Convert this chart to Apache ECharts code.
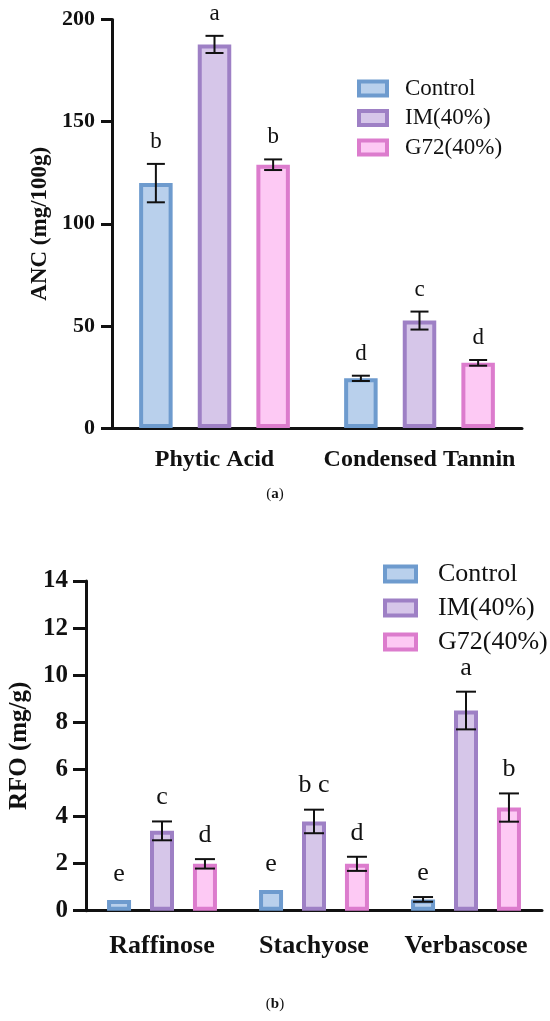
<!doctype html>
<html lang="en">
<head>
<meta charset="UTF-8">
<title>ANC and RFO</title>
<script src="https://cdn.jsdelivr.net/npm/echarts@6/dist/echarts.min.js"></script>
<style>
  html, body { margin: 0; padding: 0; background: #fff; }
  #chart { width: 550px; height: 1021px; }
</style>
</head>
<body>
<div id="chart"></div>
<script>
// (a) anti-nutritional compounds
var catsA = ['Phytic Acid', 'Condensed Tannin'];
var ctrlA = [119.9, 24.3];
var ctrlErrA = [9.4, 1.3];
var imA = [187.8, 52.6];
var imErrA = [4.2, 4.4];
var g72A = [128.9, 31.9];
var g72ErrA = [2.6, 1.4];
var letCtrlA = ['b', 'd'];
var letImA = ['a', 'c'];
var letG72A = ['b', 'd'];

// (b) raffinose family oligosaccharides
var catsB = ['Raffinose', 'Stachyose', 'Verbascose'];
var ctrlB = [0.45, 0.88, 0.48];
var ctrlErrB = [0, 0, 0.1];
var imB = [3.39, 3.79, 8.5];
var imErrB = [0.4, 0.5, 0.8];
var g72B = [1.99, 1.99, 4.38];
var g72ErrB = [0.2, 0.3, 0.6];
var letCtrlB = ['e', 'e', 'e'];
var letImB = ['c', 'b c', 'a'];
var letG72B = ['d', 'd', 'b'];

var groups = ['Control', 'IM(40%)', 'G72(40%)'];
var fills = ['#b9d0ec', '#d6c6e9', '#fdc9f4'];
var borders = ['#6e9bce', '#9e80c5', '#dc7ccd'];

var FONT = 'Liberation Serif';
var chart = echarts.init(document.getElementById('chart'));

// bar sizes per panel
var BW = [33.5, 24];
var GAP = [0.75, 0.79];
var CAP = [9, 10];

function errSeries(panel, k, vals, errs, letters, fontSize, lift) {
	var step = BW[panel] * (1 + GAP[panel]);
	var off = (k - 1) * step;
	var c = CAP[panel];
	return {
		type: 'custom',
		xAxisIndex: panel,
		yAxisIndex: panel,
		z: 5,
		data: vals.map(function (v, i) { return [i, v, errs[i]]; }),
		renderItem: function (params, api) {
			var i = api.value(0), v = api.value(1), e = api.value(2);
			var hi = api.coord([i, v + e]);
			var lo = api.coord([i, v - e]);
			var x = hi[0] + off;
			var kids = [];
			if (e > 0) {
				var ls = { stroke: '#111', lineWidth: 2 };
				kids.push({ type: 'line', shape: { x1: x, y1: hi[1], x2: x, y2: lo[1] }, style: ls });
				kids.push({ type: 'line', shape: { x1: x - c, y1: hi[1], x2: x + c, y2: hi[1] }, style: ls });
				kids.push({ type: 'line', shape: { x1: x - c, y1: lo[1], x2: x + c, y2: lo[1] }, style: ls });
			}
			var top = e > 0 ? hi[1] : hi[1] - 2;
			kids.push({
				type: 'text',
				style: {
					x: x, y: top - lift, text: letters[params.dataIndex],
					align: 'center', verticalAlign: 'middle',
					font: fontSize + 'px "' + FONT + '"', fill: '#111'
				}
			});
			return { type: 'group', children: kids };
		}
	};
}

function barSeries(panel, k, vals) {
	return {
		name: groups[k],
		type: 'bar',
		xAxisIndex: panel,
		yAxisIndex: panel,
		barWidth: BW[panel],
		barGap: (GAP[panel] * 100) + '%',
		data: vals,
		itemStyle: { color: fills[k], borderColor: borders[k], borderWidth: 4 }
	};
}

function yAx(panel, max, interval, name, fs, nameFs, nameGap, tick, margin) {
	return {
		type: 'value', gridIndex: panel, min: 0, max: max, interval: interval,
		name: name, nameLocation: 'middle', nameRotate: 90, nameGap: nameGap,
		nameTextStyle: { fontFamily: FONT, fontWeight: 'bold', fontSize: nameFs, color: '#111' },
		axisLine: { show: true, lineStyle: { color: '#111', width: 3 } },
		axisTick: { show: true, length: tick, lineStyle: { color: '#111', width: 3 } },
		axisLabel: { fontFamily: FONT, fontWeight: 'bold', fontSize: fs, color: '#111', margin: margin },
		splitLine: { show: false }
	};
}

function xAx(panel, cats, fs, margin) {
	return {
		type: 'category', gridIndex: panel, data: cats,
		axisLine: { lineStyle: { color: '#111', width: 3 } },
		axisTick: { alignWithLabel: true, length: 12, lineStyle: { color: '#111', width: 3 } },
		axisLabel: { interval: 0, fontFamily: FONT, fontWeight: 'bold', fontSize: fs, color: '#111', margin: margin }
	};
}

function legend(left, top, w, h, fs, pad, gap) {
	return {
		orient: 'vertical', left: left, top: top,
		data: groups, icon: 'rect', itemWidth: w, itemHeight: h, itemGap: gap,
		itemStyle: { borderWidth: 4 },
		textStyle: { fontFamily: FONT, fontSize: fs, color: '#111', padding: [0, 0, 0, pad] }
	};
}

var option = {
	animation: false,
	backgroundColor: '#fff',
	grid: [
		{ left: 112, right: 28, top: 19.5, height: 408.5, containLabel: false, outerBoundsMode: 'none' },
		{ left: 86, right: 8, top: 581, height: 329.7, containLabel: false, outerBoundsMode: 'none' }
	],
	xAxis: [xAx(0, catsA, 24, 20), xAx(1, catsB, 26, 23)],
	yAxis: [
		yAx(0, 200, 50, 'ANC (mg/100g)', 22, 23, 58, 11, 17),
		yAx(1, 14, 2, 'RFO (mg/g)', 25, 25, 54, 13, 18)
	],
	legend: [
		legend(352, 72, 28, 14, 23, 13, 6.5),
		legend(378, 556, 31, 15, 26, 17, 8)
	],
	graphic: [
		{ type: 'text', left: 'center', top: 487,
		  style: { text: '({b|a})', font: '15px "' + FONT + '"', fill: '#111',
		           rich: { b: { fontFamily: FONT, fontWeight: 'bold', fontSize: 15 } } } },
		{ type: 'text', left: 'center', top: 997,
		  style: { text: '({b|b})', font: '15px "' + FONT + '"', fill: '#111',
		           rich: { b: { fontFamily: FONT, fontWeight: 'bold', fontSize: 15 } } } }
	],
	series: [
		barSeries(0, 0, ctrlA), barSeries(0, 1, imA), barSeries(0, 2, g72A),
		errSeries(0, 0, ctrlA, ctrlErrA, letCtrlA, 23, 22),
		errSeries(0, 1, imA, imErrA, letImA, 23, 22),
		errSeries(0, 2, g72A, g72ErrA, letG72A, 23, 22),
		barSeries(1, 0, ctrlB), barSeries(1, 1, imB), barSeries(1, 2, g72B),
		errSeries(1, 0, ctrlB, ctrlErrB, letCtrlB, 26, 24),
		errSeries(1, 1, imB, imErrB, letImB, 26, 24),
		errSeries(1, 2, g72B, g72ErrB, letG72B, 26, 24)
	]
};

chart.setOption(option);
</script>
</body>
</html>
